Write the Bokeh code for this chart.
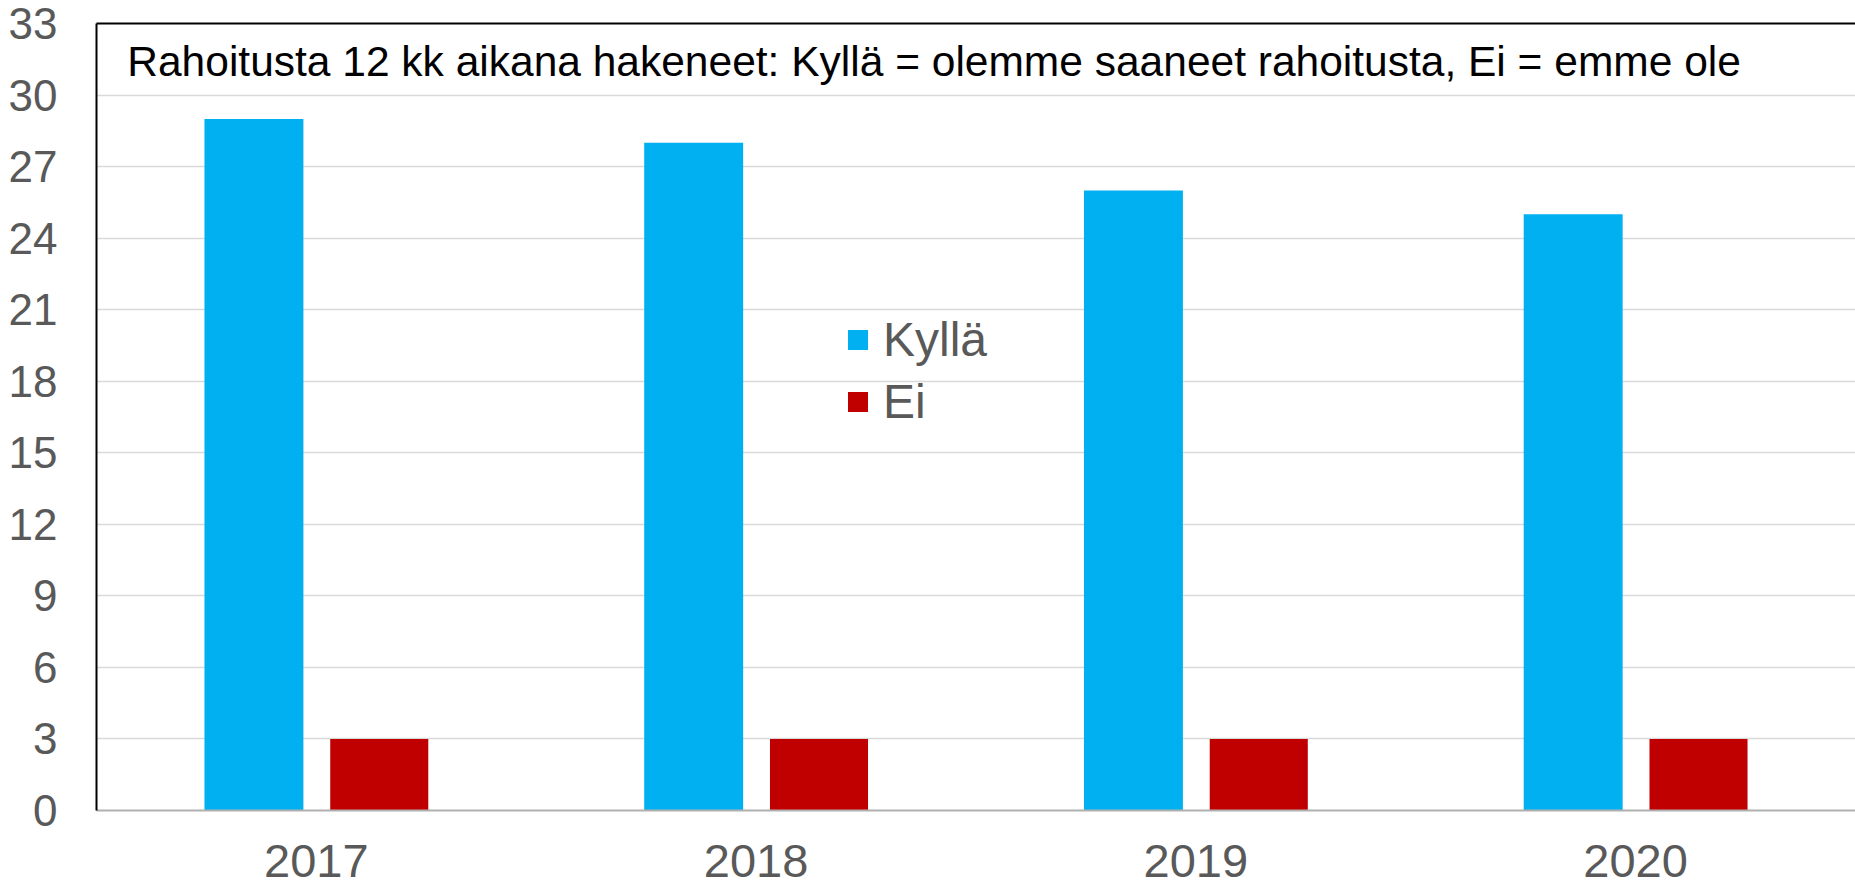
from bokeh.plotting import figure
from bokeh.models import FactorRange, Range1d, FixedTicker, Label, Legend, CategoricalAxis
from bokeh.transform import dodge
from bokeh.models import ColumnDataSource
from bokeh.embed import file_html
from bokeh.resources import INLINE

years = ["2017", "2018", "2019", "2020"]
kylla = [29, 28, 26, 25]
ei = [3, 3, 3, 3]
y_ticks = [0, 3, 6, 9, 12, 15, 18, 21, 24, 27, 30, 33]
title_text = "Rahoitusta 12 kk aikana hakeneet: Kyllä = olemme saaneet rahoitusta, Ei = emme ole"

source = ColumnDataSource(data=dict(years=years, kylla=kylla, ei=ei))

p = figure(width=1855, height=888, x_range=FactorRange(factors=years, range_padding=0),
           y_range=Range1d(0, 33), output_backend="svg", toolbar_location=None,
           min_border_left=96, min_border_right=0, min_border_top=23, min_border_bottom=78)
p.outline_line_color = None
p.background_fill_color = "white"
p.border_fill_color = "white"

r1 = p.vbar(x=dodge("years", -0.142, range=p.x_range), top="kylla", width=0.225, source=source,
            fill_color="#00B0F0", line_color=None)
r2 = p.vbar(x=dodge("years", 0.143, range=p.x_range), top="ei", width=0.223, source=source,
            fill_color="#C00000", line_color=None)

# axes
p.yaxis.ticker = FixedTicker(ticks=y_ticks)
p.yaxis.major_tick_line_color = None
p.yaxis.major_tick_out = 0
p.yaxis.major_tick_in = 0
p.yaxis.minor_tick_line_color = None
p.yaxis.axis_line_color = "black"
p.yaxis.axis_line_width = 2
p.yaxis.major_label_text_font = "Liberation Sans"
p.yaxis.major_label_text_font_size = "44px"
p.yaxis.major_label_text_color = "#595959"
p.yaxis.major_label_standoff = 39

p.xaxis.major_tick_line_color = None
p.xaxis.major_tick_out = 0
p.xaxis.major_tick_in = 0
p.xaxis.axis_line_color = "#B0B0B0"
p.xaxis.axis_line_width = 2
p.xaxis.major_label_text_font = "Liberation Sans"
p.xaxis.major_label_text_font_size = "47px"
p.xaxis.major_label_text_color = "#595959"
p.xaxis.major_label_standoff = 34

# top border drawn as an unlabeled axis above the frame
top = CategoricalAxis(axis_line_color="black", axis_line_width=2,
                      major_tick_line_color=None, major_tick_out=0, major_tick_in=0,
                      major_label_text_color=None, major_label_text_font_size="1px",
                      major_label_standoff=0)
p.add_layout(top, "above")

p.xgrid.grid_line_color = None
p.ygrid.ticker = FixedTicker(ticks=y_ticks[1:-1])
p.ygrid.grid_line_color = "#D9D9D9"
p.ygrid.grid_line_width = 1.5

p.add_layout(Label(x=0.07, y=31.4, text=title_text, text_font="Liberation Sans",
                   text_font_size="42.5px", text_color="black", text_baseline="alphabetic"))

legend = Legend(items=[("Kyllä", [r1]), ("Ei", [r2])], location=(749, 381))
legend.glyph_width = 25
legend.glyph_height = 25
legend.label_standoff = 13
legend.spacing = 7
legend.padding = 0
legend.margin = 0
legend.border_line_color = None
legend.background_fill_alpha = 0
legend.label_text_font = "Liberation Sans"
legend.label_text_font_size = "48px"
legend.label_text_color = "#595959"
p.add_layout(legend, "center")

open("out.html", "w").write(file_html(p, INLINE))
